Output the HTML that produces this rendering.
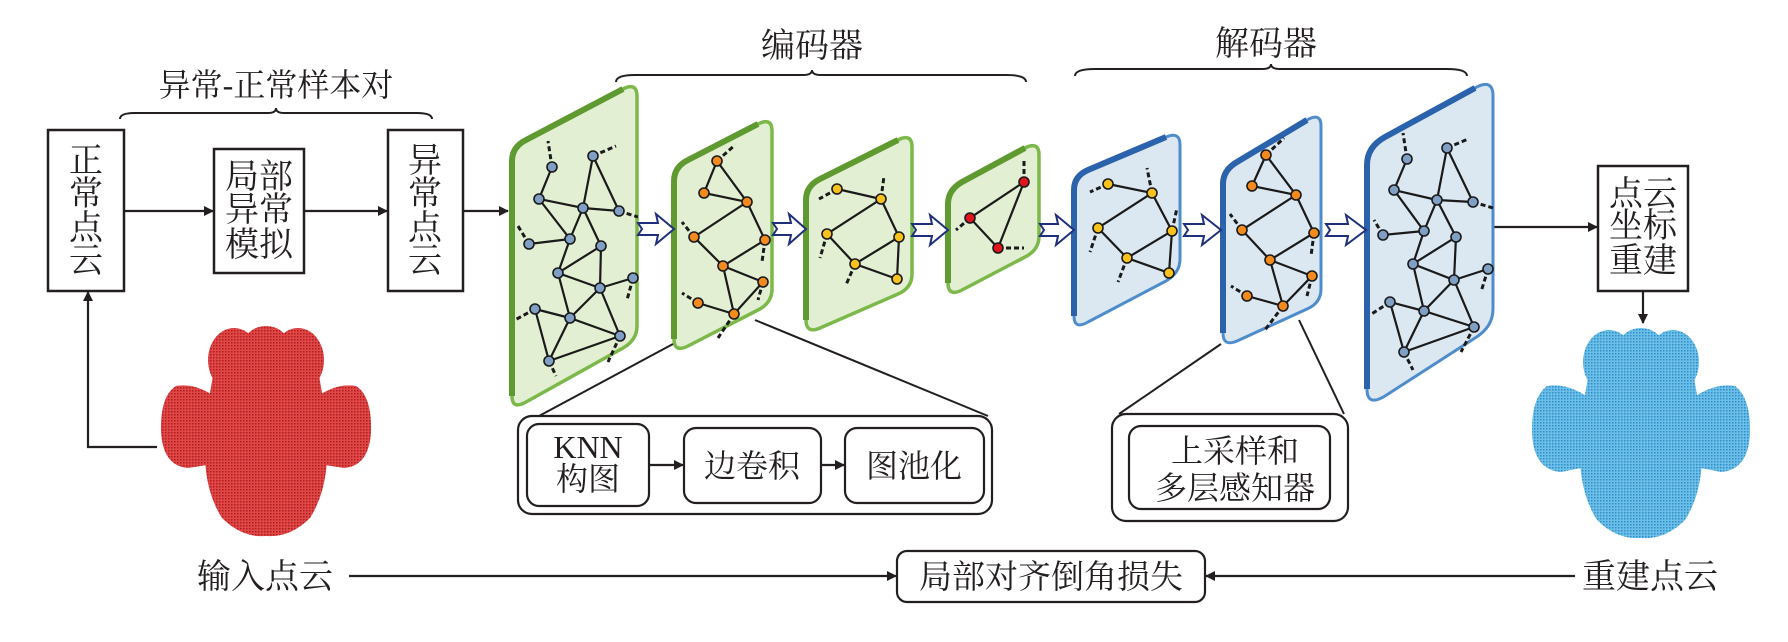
<!DOCTYPE html>
<html><head><meta charset="utf-8"><style>
html,body{margin:0;padding:0;background:#fff;}
svg{display:block;}
text{font-family:"Liberation Serif","Noto Serif CJK SC","Noto Sans CJK SC",serif;fill:#231f20;}
</style></head><body>
<svg width="1788" height="642" viewBox="0 0 1788 642" xmlns="http://www.w3.org/2000/svg">
<defs>
<marker id="ah" markerWidth="10" markerHeight="10" refX="9" refY="5" orient="auto" markerUnits="userSpaceOnUse"><path d="M0,0 L10,5 L0,10 Z" fill="#231f20"/></marker>
<pattern id="pr" width="3" height="3" patternUnits="userSpaceOnUse"><rect width="3" height="3" fill="#e04848"/><rect width="1.5" height="1.5" fill="#b01c1c"/></pattern>
<pattern id="pb" width="3" height="3" patternUnits="userSpaceOnUse"><rect width="3" height="3" fill="#6cc0e8"/><rect width="1.5" height="1.5" fill="#2f8cc8"/></pattern>
</defs>

<text x="276" y="96" font-size="32" text-anchor="middle">异常-正常样本对</text>
<text x="812" y="57" font-size="34" text-anchor="middle">编码器</text>
<text x="1266" y="55" font-size="34" text-anchor="middle">解码器</text>

<g fill="none" stroke="#231f20" stroke-width="2">
<path d="M120,119 Q120,113 135,113 L268,113 Q276,113 276,108 Q276,113 284,113 L417,113 Q432,113 432,119"/>
<path d="M616,82 Q616,75 635,75 L803,75 Q812,75 812,70 Q812,75 821,75 L1006,75 Q1026,75 1026,82"/>
<path d="M1075,76 Q1075,69 1095,69 L1262,69 Q1271,69 1271,64 Q1271,69 1280,69 L1447,69 Q1467,69 1467,76"/>
</g>

<g fill="#fff" stroke="#231f20" stroke-width="2.5">
<rect x="48" y="130" width="76" height="161"/>
<rect x="214" y="149" width="90" height="124"/>
<rect x="388" y="130" width="75" height="161"/>
<rect x="1598" y="166" width="90" height="125"/>
</g>
<g font-size="34" text-anchor="middle">
<text x="86" y="172">正</text><text x="86" y="205">常</text><text x="86" y="239">点</text><text x="86" y="272">云</text>
<text x="425" y="172">异</text><text x="425" y="205">常</text><text x="425" y="239">点</text><text x="425" y="272">云</text>
<text x="242" y="188">局</text><text x="276" y="188">部</text>
<text x="242" y="221">异</text><text x="276" y="221">常</text>
<text x="242" y="256">模</text><text x="276" y="256">拟</text>
<text x="1626" y="205">点</text><text x="1660" y="205">云</text>
<text x="1626" y="237">坐</text><text x="1660" y="237">标</text>
<text x="1626" y="272">重</text><text x="1660" y="272">建</text>
</g>

<g stroke="#231f20" stroke-width="2.2" fill="none" marker-end="url(#ah)">
<line x1="124" y1="211" x2="213" y2="211"/>
<line x1="304" y1="211" x2="387" y2="211"/>
<line x1="463" y1="211" x2="508" y2="211"/>
<polyline points="157,447 88,447 88,292"/>
<line x1="1493" y1="227" x2="1597" y2="227"/>
<line x1="1643" y1="291" x2="1643" y2="323"/>
<line x1="349" y1="576" x2="896" y2="576"/>
<line x1="1575" y1="576" x2="1206" y2="576"/>
</g>

<g stroke-linejoin="round">
<g fill="#e3efd2" stroke="#7cb84a" stroke-width="3.5">
<path d="M512,161 Q512,147 526,140 L623,89 Q637,82 637,96 L637,326 Q637,340 623,348 L526,402 Q512,410 512,396 Z"/>
<path d="M674,181 Q674,167 688,160 L758,124 Q772,117 772,131 L772,289 Q772,303 758,310 L688,346 Q674,353 674,339 Z"/>
<path d="M806,200 Q806,186 820,179 L898,140 Q912,133 912,147 L912,274 Q912,288 898,294 L820,328 Q806,334 806,320 Z"/>
<path d="M948,204 Q948,190 962,182 L1025,148 Q1039,141 1039,155 L1039,236 Q1039,250 1025,257 L962,290 Q948,297 948,283 Z"/>
</g>
<g fill="none" stroke="#5e9a30" stroke-width="6">
<path d="M512,396 L512,161 Q512,147 526,140 L623,89"/>
<path d="M674,339 L674,181 Q674,167 688,160 L758,124"/>
<path d="M806,320 L806,200 Q806,186 820,179 L898,140"/>
<path d="M948,283 L948,204 Q948,190 962,182 L1025,148"/>
</g>
<g fill="#dbe8f2" stroke="#4f8ccc" stroke-width="3">
<path d="M1074,190 Q1074,176 1088,170 L1166,137 Q1180,131 1180,145 L1180,259 Q1180,273 1166,281 L1088,322 Q1074,330 1074,316 Z"/>
<path d="M1223,184 Q1223,170 1237,162 L1307,120 Q1321,112 1321,126 L1321,289 Q1321,303 1307,309 L1237,341 Q1223,347 1223,333 Z"/>
<path d="M1367,165 Q1367,147 1385,137 L1475,88 Q1493,78 1493,96 L1493,309 Q1493,327 1475,338 L1385,396 Q1367,407 1367,389 Z"/>
</g>
<g fill="none" stroke="#2a62ac" stroke-width="6">
<path d="M1074,316 L1074,190 Q1074,176 1088,170 L1166,137"/>
<path d="M1223,333 L1223,184 Q1223,170 1237,162 L1307,120"/>
<path d="M1367,389 L1367,165 Q1367,147 1385,137 L1475,88"/>
</g>
</g>

<g fill="#fff" stroke="#1f2f7a" stroke-width="2" stroke-linejoin="miter">
<path transform="translate(638,229)" d="M0,-6 L20,-6 L18,-15 L36,0 L18,15 L20,6 L0,6 L4,0 Z"/>
<path transform="translate(773,229)" d="M0,-6 L18,-6 L16,-15 L33,0 L16,15 L18,6 L0,6 L4,0 Z"/>
<path transform="translate(912,230)" d="M0,-6 L20,-6 L18,-15 L36,0 L18,15 L20,6 L0,6 L4,0 Z"/>
<path transform="translate(1040,230)" d="M0,-6 L18,-6 L16,-15 L34,0 L16,15 L18,6 L0,6 L4,0 Z"/>
<path transform="translate(1184,230)" d="M0,-6 L20,-6 L18,-15 L37,0 L18,15 L20,6 L0,6 L4,0 Z"/>
<path transform="translate(1326,230)" d="M0,-6 L22,-6 L20,-15 L40,0 L20,15 L22,6 L0,6 L4,0 Z"/>
</g>

<g stroke="#1a1a1a" stroke-width="2.2" fill="none">
<path d="M552,167L539,199L583,208L593,156L619,211L583,208M539,199L570,239L583,208M570,239L529,244M570,239L558,273M583,208L601,246L558,273L600,288L601,246M600,288L633,278M558,273L570,318L600,288M535,309L570,318M535,309L549,361L570,318L620,336L600,288M549,361L620,336"/>
<path d="M1407,159L1394,190L1437,200L1447,148L1473,202L1437,200M1394,190L1424,231L1437,200M1424,231L1383,235M1424,231L1413,264M1437,200L1456,237L1413,264L1454,280L1456,237M1454,280L1488,269M1413,264L1424,311L1454,280M1390,302L1424,311M1390,302L1404,352L1424,311L1474,327L1454,280M1404,352L1474,327"/>
<path d="M717,161L704,193L747,202L717,161M747,202L694,237L723,266L765,240L747,202M723,266L763,282L734,314L723,266M698,303L734,314"/>
<path d="M1266,155L1252,186L1296,195L1266,155M1296,195L1242,230L1270,260L1314,233L1296,195M1270,260L1312,276L1283,306L1270,260M1247,296L1283,306"/>
<path d="M837,189L881,199L827,234L855,264L899,237L881,199M899,237L897,279L855,264"/>
<path d="M1024,182L970,218L998,248Z"/>
<path d="M1108,184L1152,193L1098,228L1127,258L1172,231L1152,193M1127,258L1169,273L1172,231"/>
</g>
<g stroke="#1a1a1a" stroke-width="3" fill="none" stroke-dasharray="5,3">
<path d="M552,167L548,141M593,156L616,146M619,211L638,217M529,244L518,226M633,278L627,300M535,309L515,320M549,361L556,376M620,336L608,362"/>
<path d="M1407,159L1403,133M1447,148L1468,139M1473,202L1493,208M1383,235L1374,220M1488,269L1481,292M1390,302L1370,315M1404,352L1413,370M1474,327L1461,352"/>
<path d="M717,161L735,145M694,237L682,222M765,240L762,262M763,282L758,300M698,303L682,293M734,314L718,338"/>
<path d="M1266,155L1284,138M1242,230L1230,214M1314,233L1311,256M1312,276L1307,296M1247,296L1231,286M1283,306L1265,330"/>
<path d="M837,189L819,199M881,199L884,176M827,234L820,258M855,264L846,285"/>
<path d="M1024,182L1024,158M970,218L956,230M998,248L1024,248"/>
<path d="M1108,184L1090,192M1152,193L1147,168M1098,228L1090,252M1172,231L1177,208M1127,258L1118,282"/>
</g>
<g stroke="#1a1a1a" stroke-width="1.6">
<g fill="#7f9fc4">
<circle cx="593" cy="156" r="5"/><circle cx="552" cy="167" r="5"/><circle cx="539" cy="199" r="5"/><circle cx="583" cy="208" r="5"/><circle cx="619" cy="211" r="5"/><circle cx="570" cy="239" r="5"/><circle cx="601" cy="246" r="5"/><circle cx="529" cy="244" r="5"/><circle cx="558" cy="273" r="5"/><circle cx="600" cy="288" r="5"/><circle cx="633" cy="278" r="5"/><circle cx="535" cy="309" r="5"/><circle cx="570" cy="318" r="5"/><circle cx="620" cy="336" r="5"/><circle cx="549" cy="361" r="5"/>
<circle cx="1447" cy="148" r="5"/><circle cx="1407" cy="159" r="5"/><circle cx="1394" cy="190" r="5"/><circle cx="1437" cy="200" r="5"/><circle cx="1473" cy="202" r="5"/><circle cx="1424" cy="231" r="5"/><circle cx="1456" cy="237" r="5"/><circle cx="1383" cy="235" r="5"/><circle cx="1413" cy="264" r="5"/><circle cx="1454" cy="280" r="5"/><circle cx="1488" cy="269" r="5"/><circle cx="1390" cy="302" r="5"/><circle cx="1424" cy="311" r="5"/><circle cx="1474" cy="327" r="5"/><circle cx="1404" cy="352" r="5"/>
</g>
<g fill="#f28a1e">
<circle cx="717" cy="161" r="5"/><circle cx="704" cy="193" r="5"/><circle cx="747" cy="202" r="5"/><circle cx="694" cy="237" r="5"/><circle cx="765" cy="240" r="5"/><circle cx="723" cy="266" r="5"/><circle cx="763" cy="282" r="5"/><circle cx="698" cy="303" r="5"/><circle cx="734" cy="314" r="5"/>
<circle cx="1266" cy="155" r="5"/><circle cx="1252" cy="186" r="5"/><circle cx="1296" cy="195" r="5"/><circle cx="1242" cy="230" r="5"/><circle cx="1314" cy="233" r="5"/><circle cx="1270" cy="260" r="5"/><circle cx="1312" cy="276" r="5"/><circle cx="1247" cy="296" r="5"/><circle cx="1283" cy="306" r="5"/>
</g>
<g fill="#f7c21c">
<circle cx="837" cy="189" r="5"/><circle cx="881" cy="199" r="5"/><circle cx="827" cy="234" r="5"/><circle cx="855" cy="264" r="5"/><circle cx="899" cy="237" r="5"/><circle cx="897" cy="279" r="5"/>
<circle cx="1108" cy="184" r="5"/><circle cx="1152" cy="193" r="5"/><circle cx="1098" cy="228" r="5"/><circle cx="1172" cy="231" r="5"/><circle cx="1127" cy="258" r="5"/><circle cx="1169" cy="273" r="5"/>
</g>
<g fill="#e0141c">
<circle cx="1024" cy="182" r="5"/><circle cx="970" cy="218" r="5"/><circle cx="998" cy="248" r="5"/>
</g>
</g>

<g stroke="#231f20" stroke-width="2" fill="none">
<line x1="673" y1="344" x2="539" y2="416"/>
<line x1="755" y1="320" x2="988" y2="416"/>
<line x1="1221" y1="344" x2="1119" y2="414"/>
<line x1="1299" y1="320" x2="1344" y2="414"/>
</g>
<g fill="#fff" stroke="#231f20" stroke-width="2.2">
<rect x="518" y="416" width="474" height="98" rx="14"/>
<rect x="527" y="424" width="122" height="82" rx="12"/>
<rect x="684" y="428" width="137" height="75" rx="12"/>
<rect x="845" y="428" width="139" height="75" rx="12"/>
<rect x="1112" y="414" width="236" height="107" rx="14"/>
<rect x="1129" y="426" width="201" height="83" rx="12"/>
<rect x="897" y="551" width="308" height="51" rx="10"/>
</g>
<g stroke="#231f20" stroke-width="2.2" fill="none" marker-end="url(#ah)">
<line x1="649" y1="465" x2="683" y2="465"/>
<line x1="821" y1="465" x2="844" y2="465"/>
</g>
<g font-size="32" text-anchor="middle">
<text x="588" y="458">KNN</text>
<text x="588" y="490">构图</text>
<text x="752" y="477">边卷积</text>
<text x="914" y="477">图池化</text>
<text x="1235" y="462">上采样和</text>
<text x="1235" y="499">多层感知器</text>
<text x="1051" y="588" font-size="33">局部对齐倒角损失</text>
<text x="265" y="588" font-size="34">输入点云</text>
<text x="1650" y="588" font-size="34">重建点云</text>
</g>

<g fill="url(#pr)">
<ellipse cx="234" cy="360" rx="26" ry="32"/>
<ellipse cx="298" cy="360" rx="26" ry="32"/>
<ellipse cx="266" cy="348" rx="24" ry="22"/>
<path d="M216,360 L316,360 C330,430 334,480 310,518 Q290,538 266,536 Q242,538 222,518 C198,480 202,430 216,360 Z"/>
<path d="M222,402 Q198,382 176,386 Q160,396 161,432 Q163,466 188,468 L226,462 Z"/>
<path d="M310,402 Q334,382 356,386 Q372,396 371,432 Q369,466 344,468 L306,462 Z"/>
</g>
<g fill="url(#pb)" transform="translate(1375,2)">
<ellipse cx="234" cy="360" rx="26" ry="32"/>
<ellipse cx="298" cy="360" rx="26" ry="32"/>
<ellipse cx="266" cy="348" rx="24" ry="22"/>
<path d="M216,360 L316,360 C330,430 334,480 310,518 Q290,538 266,536 Q242,538 222,518 C198,480 202,430 216,360 Z"/>
<path d="M222,402 Q196,380 172,384 Q156,396 157,432 Q159,468 186,470 L226,462 Z"/>
<path d="M310,402 Q336,380 360,384 Q376,396 375,432 Q373,468 346,470 L306,462 Z"/>
</g>
</svg>
</body></html>
